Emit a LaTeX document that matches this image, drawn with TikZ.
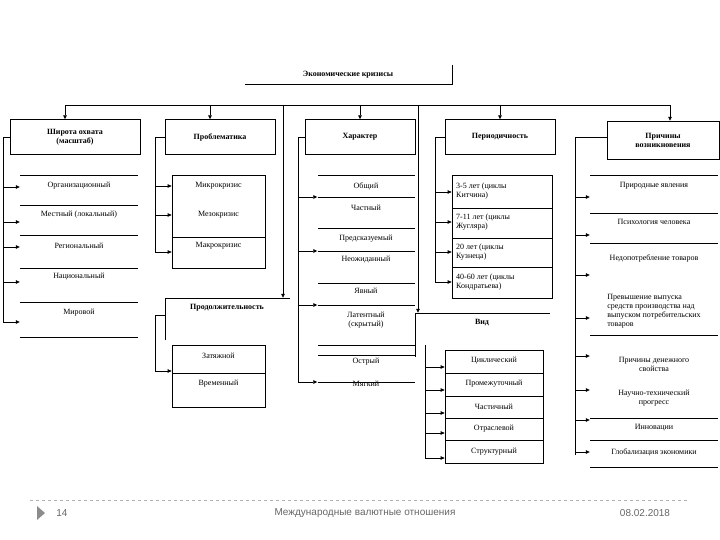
\documentclass[tikz,border=0pt]{standalone}
\usepackage{fontspec}
\setmainfont{Liberation Serif}
\newfontfamily\sansf{Liberation Sans}
\usetikzlibrary{arrows.meta}
\begin{document}
\begin{tikzpicture}[x=1pt,y=-1pt,
  ln/.style={line width=0.7pt},
  ar/.style={ln,-{Triangle[length=4pt,width=3.5pt]}},
  t/.style={font=\fontsize{8}{9}\selectfont,align=center,inner sep=1pt},
  tb/.style={t,font=\bfseries\fontsize{8}{9}\selectfont},
  foot/.style={text=black!60,font=\sansf\fontsize{10}{11}\selectfont}]
\useasboundingbox (0,0) rectangle (720,540);
% title
\node[tb] (title) at (348,75) {Экономические кризисы};
\draw[ln] (245,84) -- (452,84) -- (452,65);
% bus
\coordinate (b1) at (65,105); \coordinate (b2) at (210,105); \coordinate (b3) at (283,105);
\coordinate (b4) at (360,105); \coordinate (b5) at (418,105); \coordinate (b6) at (500,105); \coordinate (b7) at (670,105);
\draw[ln] (b1) -- (b7);
% categories
\node[tb,draw,minimum width=130,minimum height=35] (c1) at (75,137) {Широта охвата\\(масштаб)};
\node[tb,draw,minimum width=110,minimum height=35] (c2) at (220,137) {Проблематика};
\node[tb,draw,minimum width=110,minimum height=35] (c3) at (360,137) {Характер};
\node[tb,draw,minimum width=110,minimum height=35] (c4) at (500,137) {Периодичность};
\node[tb,draw,minimum width=112,minimum height=38] (c5) at (663,140) {Причины\\возникновения};
\node[tb,minimum width=125,minimum height=20] (c6) at (227,308) {Продолжительность};
\draw[ln] (165,340) -- (165,298) -- (290,298);
\node[tb,minimum width=135,minimum height=20] (c7) at (482,323) {Вид};
\draw[ln] (415,357) -- (415,313) -- (550,313);
\draw[ar] (b1) -- (c1.north -| b1);
\draw[ar] (b2) -- (c2.north -| b2);
\draw[ar] (b4) -- (c3.north -| b4);
\draw[ar] (b6) -- (c4.north -| b6);
\draw[ar] (b7) -- (c5.north -| b7);
\draw[ar] (b3) -- (b3 |- c6.north);
\draw[ar] (b5) -- (b5 |- c7.north);
% column 1
\foreach \y in {175,205,235,268,302,337} \draw[ln] (20,\y) -- (138,\y);
\node[t,minimum width=118] (a1) at (79,186) {Организационный};
\node[t,minimum width=118] (a2) at (79,215) {Местный (локальный)};
\node[t,minimum width=118] (a3) at (79,246) {Региональный};
\node[t,minimum width=118] (a4) at (79,277) {Национальный};
\node[t,minimum width=118] (a5) at (79,313) {Мировой};
\draw[ln] (c1.west |- 0,137) -- (3,137) -- (3,322);
\foreach \n/\y in {a1/187,a2/222,a3/247,a4/282,a5/322} \draw[ar] (3,\y) -- (\n.west |- 0,\y);
% column 2
\node[draw,ln,minimum width=93,minimum height=93] (p0) at (218.5,221.5) {};
\draw[ln] (172,237) -- (265,237);
\node[t] (p1) at (218.5,186) {Микрокризис};
\node[t] (p2) at (218.5,215) {Мезокризис};
\node[t] (p3) at (218.5,246) {Макрокризис};
\draw[ln] (c2.west |- 0,137) -- (155,137) -- (155,252);
\foreach \y in {186,215,252} \draw[ar] (155,\y) -- (p0.west |- 0,\y);
% duration
\node[draw,ln,minimum width=93,minimum height=62] (d0) at (218.5,376) {};
\draw[ln] (172,373) -- (265,373);
\node[t] (d1) at (218.5,356) {Затяжной};
\node[t] (d2) at (218.5,384) {Временный};
\draw[ln] (165,315) -- (155,315) -- (155,371);
\draw[ar] (155,371) -- (d0.west |- 0,371);
% column 3
\foreach \y in {175,197,228,251,283,305,345,355,382} \draw[ln] (318,\y) -- (415,\y);
\node[t,minimum width=97] (h1) at (366,186) {Общий};
\node[t,minimum width=97] (h2) at (366,208) {Частный};
\node[t,minimum width=97] (h3) at (366,239) {Предсказуемый};
\node[t,minimum width=97] (h4) at (366,260) {Неожиданный};
\node[t,minimum width=97] (h5) at (366,291) {Явный};
\node[t,minimum width=97] (h6) at (366,320) {Латентный\\(скрытый)};
\node[t,minimum width=97] (h7) at (366,362) {Острый};
\node[t,minimum width=97] (h8) at (366,384) {Мягкий};
\draw[ln] (c3.west |- 0,137) -- (298,137) -- (298,382);
\foreach \y in {197,251,305,382} \draw[ar] (298,\y) -- (h1.west |- 0,\y);
% column 4
\node[draw,ln,minimum width=100,minimum height=123] (q0) at (502,236.5) {};
\foreach \y in {208,238,267} \draw[ln] (452,\y) -- (552,\y);
\node[t,align=left,anchor=west] (q1) at (455,191) {3-5 лет (циклы\\Китчина)};
\node[t,align=left,anchor=west] (q2) at (455,222) {7-11 лет (циклы\\Жугляра)};
\node[t,align=left,anchor=west] (q3) at (455,252) {20 лет (циклы\\Кузнеца)};
\node[t,align=left,anchor=west] (q4) at (455,282) {40-60 лет (циклы\\Кондратьева)};
\draw[ln] (c4.west |- 0,137) -- (435,137) -- (435,282);
\foreach \y in {192,222,252,282} \draw[ar] (435,\y) -- (q0.west |- 0,\y);
% kind
\node[draw,ln,minimum width=98,minimum height=113] (v0) at (494,406.5) {};
\foreach \y in {373,396,418,440} \draw[ln] (445,\y) -- (543,\y);
\node[t] (v1) at (494,361) {Циклический};
\node[t] (v2) at (494,384) {Промежуточный};
\node[t] (v3) at (494,407) {Частичный};
\node[t] (v4) at (494,429) {Отраслевой};
\node[t] (v5) at (494,452) {Структурный};
\draw[ln] (425,345) -- (425,458);
\foreach \y in {367,390,413,433,458} \draw[ar] (425,\y) -- (v0.west |- 0,\y);
% column 5
\foreach \y in {175,213,243,335,418,440,467} \draw[ln] (590,\y) -- (718,\y);
\node[t,minimum width=128] (r1) at (654,186) {Природные явления};
\node[t,minimum width=128] (r2) at (654,222) {Психология человека};
\node[t,minimum width=128] (r3) at (654,258) {Недопотребление товаров};
\node[t,minimum width=128,align=left] (r4) at (654,311) {Превышение выпуска\\средств производства над\\выпуском потребительских\\товаров};
\node[t,minimum width=128] (r5) at (654,364) {Причины денежного\\свойства};
\node[t,minimum width=128] (r6) at (654,398) {Научно-технический\\прогресс};
\node[t,minimum width=128] (r7) at (654,428) {Инновации};
\node[t,minimum width=128] (r8) at (654,452) {Глобализация экономики};
\draw[ln] (c5.west |- 0,137) -- (575,137) -- (575,455);
\foreach \y in {197,235,275,318,356,390,420,452} \draw[ar] (575,\y) -- (r1.west |- 0,\y);
% footer
\draw[black!30,dashed] (30,500) -- (690,500);
\fill[black!45] (37,506) -- (45,513) -- (37,520) -- cycle;
\node[foot] (f1) at (62,513) {14};
\node[foot] (f2) at (365,513) {Международные валютные отношения};
\node[foot] (f3) at (645,513) {08.02.2018};
\end{tikzpicture}
\end{document}
